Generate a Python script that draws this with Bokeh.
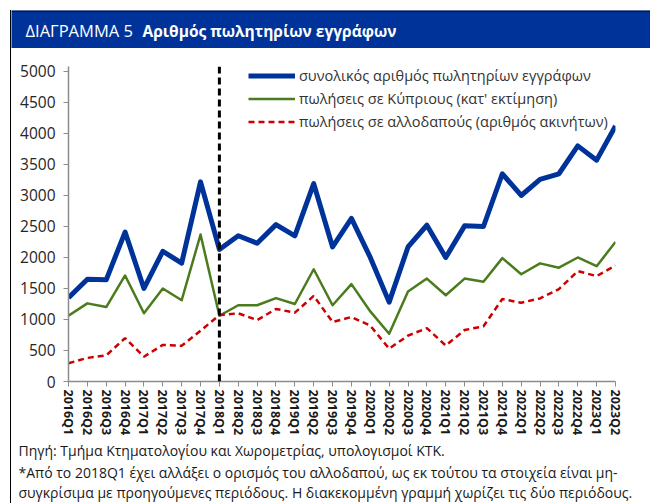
from bokeh.plotting import figure
from bokeh.layouts import column, row
from bokeh.models import (Range1d, FixedTicker, Span, Label, BoxAnnotation, Legend, LegendItem,
                          ColumnDataSource, Spacer)
from bokeh.embed import file_html
from bokeh.resources import INLINE

quarters = ["2016Q1", "2016Q2", "2016Q3", "2016Q4", "2017Q1", "2017Q2", "2017Q3", "2017Q4",
            "2018Q1", "2018Q2", "2018Q3", "2018Q4", "2019Q1", "2019Q2", "2019Q3", "2019Q4",
            "2020Q1", "2020Q2", "2020Q3", "2020Q4", "2021Q1", "2021Q2", "2021Q3", "2021Q4",
            "2022Q1", "2022Q2", "2022Q3", "2022Q4", "2023Q1", "2023Q2"]

total = [1350, 1650, 1640, 2410, 1500, 2100, 1910, 3220,
         2130, 2350, 2230, 2530, 2350, 3190, 2170, 2630,
         2000, 1280, 2170, 2520, 2000, 2510, 2500, 3350,
         3000, 3260, 3350, 3800, 3570, 4120]

cypriots = [1060, 1260, 1200, 1710, 1100, 1500, 1310, 2370,
            1060, 1230, 1230, 1345, 1250, 1810, 1230, 1570,
            1130, 770, 1450, 1660, 1390, 1660, 1610, 1990,
            1730, 1905, 1835, 2000, 1860, 2250]

foreigners = [295, 380, 420, 700, 400, 590, 575, 820,
              1070, 1100, 990, 1170, 1110, 1380, 960, 1040,
              900, 530, 740, 860, 580, 830, 890, 1330,
              1270, 1340, 1490, 1780, 1700, 1870]

y_ticks = [0, 500, 1000, 1500, 2000, 2500, 3000, 3500, 4000, 4500, 5000]

series_names = ["συνολικός αριθμός πωλητηρίων εγγράφων",
                "πωλήσεις σε Κύπριους (κατ' εκτίμηση)",
                "πωλήσεις σε αλλοδαπούς (αριθμός ακινήτων)"]

title_plain = "ΔΙΑΓΡΑΜΜΑ 5"
title_bold = "Αριθμός πωλητηρίων εγγράφων"
footer_lines = ["Πηγή: Τμήμα Κτηματολογίου και Χωρομετρίας, υπολογισμοί ΚΤΚ.",
                "*Από το 2018Q1 έχει αλλάξει ο ορισμός του αλλοδαπού, ως εκ τούτου τα στοιχεία είναι μη-",
                "συγκρίσιμα με προηγούμενες περιόδους. Η διακεκομμένη γραμμή χωρίζει τις δύο περιόδους."]
break_index = quarters.index("2018Q1")

FONT = "Open Sans"
BLUE = "#003399"
W = 639


def blank_fig(width, height, bg="white"):
    f = figure(width=width, height=height, output_backend="svg", toolbar_location=None,
               x_range=Range1d(0, width), y_range=Range1d(0, height),
               x_axis_type=None, y_axis_type=None,
               min_border_left=0, min_border_right=0, min_border_top=0, min_border_bottom=0)
    f.xgrid.visible = False
    f.ygrid.visible = False
    f.outline_line_color = None
    f.background_fill_color = bg
    f.border_fill_color = bg
    return f


# ---- title bar ----
tf = blank_fig(W, 38, BLUE)
tf.add_layout(BoxAnnotation(bottom=37, top=38, fill_color="black", fill_alpha=1, line_color=None))
tf.add_layout(Label(x=14, y=18, text=title_plain, text_font=FONT, text_font_size="16.5px",
                    text_color="white", text_baseline="middle"))
tf.add_layout(Label(x=131, y=18, text=title_bold, text_font=FONT, text_font_size="15.5px",
                    text_font_style="bold", text_color="white", text_baseline="middle"))

# ---- main chart ----
x_idx = list(range(len(quarters)))
src = ColumnDataSource(dict(x=x_idx, total=total, cyp=cypriots, frn=foreigners))

p = figure(width=W, height=392, output_backend="svg", toolbar_location=None,
           x_range=Range1d(0, len(quarters) - 1), y_range=Range1d(0, 5080),
           min_border_left=57, min_border_right=35, min_border_top=18, min_border_bottom=59)
p.xgrid.visible = False
p.ygrid.visible = False
p.outline_line_color = None
p.background_fill_color = "white"
p.border_fill_color = "white"

p.xaxis.ticker = FixedTicker(ticks=x_idx)
p.xaxis.major_label_overrides = {i: q for i, q in enumerate(quarters)}
p.xaxis.major_label_orientation = "vertical"
p.xaxis.major_label_text_font = FONT
p.xaxis.major_label_text_font_style = "bold"
p.xaxis.major_label_text_font_size = "12.5px"
p.xaxis.major_label_text_color = "#1a1a1a"
p.xaxis.minor_tick_line_color = None
p.xaxis.major_tick_in = 0
p.xaxis.major_tick_out = 5
p.xaxis.major_label_standoff = 3

p.yaxis.ticker = FixedTicker(ticks=y_ticks)
p.yaxis.major_label_text_font = FONT
p.yaxis.major_label_text_font_size = "15.5px"
p.yaxis.major_label_text_color = "#262626"
p.yaxis.minor_tick_line_color = None
p.yaxis.major_tick_in = 0
p.yaxis.major_tick_out = 5
p.yaxis.major_label_standoff = 8
for ax in (p.xaxis, p.yaxis):
    ax.axis_line_color = "#8c8c8c"
    ax.major_tick_line_color = "#8c8c8c"
    ax.axis_line_width = 1.5

p.add_layout(Span(location=break_index, dimension="height", line_color="black",
                  line_width=3, line_dash="7 4"))

r_total = p.line("x", "total", source=src, line_color=BLUE, line_width=5, line_join="round")
r_cyp = p.line("x", "cyp", source=src, line_color="#4a7b1c", line_width=2.5, line_join="round")
r_frn = p.line("x", "frn", source=src, line_color="#cc0000", line_width=2.5, line_dash="6 4")

legend = Legend(items=[LegendItem(label=series_names[0], renderers=[r_total]),
                       LegendItem(label=series_names[1], renderers=[r_cyp]),
                       LegendItem(label=series_names[2], renderers=[r_frn])],
                location=(180, 250), glyph_width=47, glyph_height=17, label_height=17,
                spacing=4, padding=0, margin=0, label_standoff=4,
                label_text_font=FONT, label_text_font_size="14.5px", label_text_color="#333333",
                border_line_color=None, background_fill_alpha=0)
p.add_layout(legend, "center")

# ---- footer ----
ff = blank_fig(W, 63)
for line, yy in zip(footer_lines, [53, 31, 11]):
    ff.add_layout(Label(x=7, y=yy, text=line, text_font=FONT, text_font_size="14px",
                        text_color="#1a1a1a", text_baseline="middle"))

left_rule = Spacer(width=1, height=493, styles={"background-color": "black"})
body = column(row(tf), row(p), row(ff), spacing=0)
layout = column(Spacer(width=650, height=10),
                row(Spacer(width=10, height=493), left_rule, body, spacing=0),
                spacing=0)

open("out.html", "w").write(file_html(layout, INLINE))
